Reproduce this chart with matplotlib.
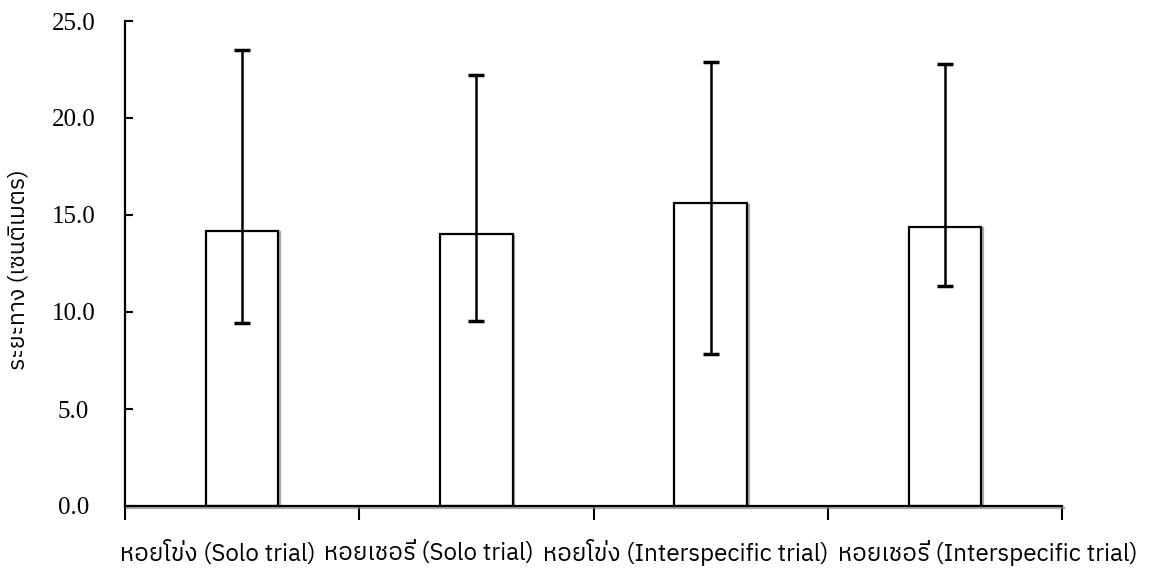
import matplotlib
matplotlib.use('Agg')
import matplotlib.pyplot as plt
import matplotlib.font_manager as fm
import matplotlib.patheffects as pe
from matplotlib.ft2font import FT2Font
import numpy as np

# Data
categories = ['หอยโข่ง (Solo trial)', 'หอยเชอรี่ (Solo trial)',
              'หอยโข่ง (Interspecific trial)', 'หอยเชอรี่ (Interspecific trial)']
means = [14.2, 14.0, 15.6, 14.4]
err_low = [9.45, 9.55, 7.85, 11.35]
err_high = [23.5, 22.2, 22.9, 22.8]
y_ticks = [0, 5, 10, 15, 20, 25]
y_label = 'ระยะทาง (เซนติเมตร)'

W, H = 1149, 575


# Look for an installed font that has Thai glyphs
def find_thai_font():
    names = []
    for f in fm.fontManager.ttflist:
        try:
            if 0x0E2B in FT2Font(f.fname).get_charmap():
                names.append(f.name)
        except Exception:
            pass
    names.sort(key=lambda n: (0 if 'Sans' in n else 1, n))
    return names[0] if names else None


thai = find_thai_font()
families = ([thai] if thai else []) + ['DejaVu Sans']

fig = plt.figure(figsize=(W / 100, H / 100), dpi=100)
ax = fig.add_axes([125 / W, 1 - 506 / H, 937 / W, 485 / H])

x = np.arange(len(categories))
means = np.array(means)
yerr = [means - np.array(err_low), np.array(err_high) - means]

# thin grey shadow like the double lines in the reference
shadow = [pe.SimpleLineShadow(offset=(1.2, -1.2), shadow_color='#888888', alpha=0.7), pe.Normal()]

bars = ax.bar(x, means, width=0.31, color='white', edgecolor='black', linewidth=1.6, zorder=2)
for b in bars:
    b.set_path_effects(shadow)
ax.errorbar(x, means, yerr=yerr, fmt='none', ecolor='black', elinewidth=1.8,
            capsize=6, capthick=2.5, zorder=3)

ax.set_xlim(-0.5, len(categories) - 0.5)
ax.set_ylim(0, 25)

for s in ['top', 'right']:
    ax.spines[s].set_visible(False)
ax.spines['left'].set_linewidth(1.6)
ax.spines['bottom'].set_linewidth(1.6)
ax.spines['bottom'].set_path_effects(shadow)

# y ticks point inward, labels centred in a column left of the axis
ax.set_yticks(y_ticks)
ax.set_yticklabels(['%.1f' % v for v in y_ticks], fontfamily='Liberation Serif', fontsize=18)
ax.tick_params(axis='y', direction='in', length=6, width=1.5, pad=37)
for lbl in ax.get_yticklabels():
    lbl.set_horizontalalignment('center')

# x ticks mark category boundaries
ax.set_xticks(np.arange(-0.5, len(categories)), labels=[''] * (len(categories) + 1))
ax.tick_params(axis='x', which='major', direction='out', length=10, width=1.5)

# category names run as one line under the axis, as in the reference
fig.canvas.draw()
renderer = fig.canvas.get_renderer()


def place_labels(size):
    texts = []
    x_px = 120
    for name in categories:
        t = fig.text(x_px / W, 1 - 553 / H, name, ha='left', va='center',
                     fontsize=size, family=families)
        x_px = t.get_window_extent(renderer).x1 + 9
        texts.append(t)
    return texts, x_px - 9


texts, right = place_labels(16)
for t in texts:
    t.remove()
label_size = 16 * (1138 - 120 - 27) / (right - 120 - 27)
place_labels(label_size)

fig.text(19 / W, 1 - 270 / H, y_label, rotation=90, ha='center', va='center',
         family=families, fontsize=16.5)

fig.savefig('out.png', dpi=100)
